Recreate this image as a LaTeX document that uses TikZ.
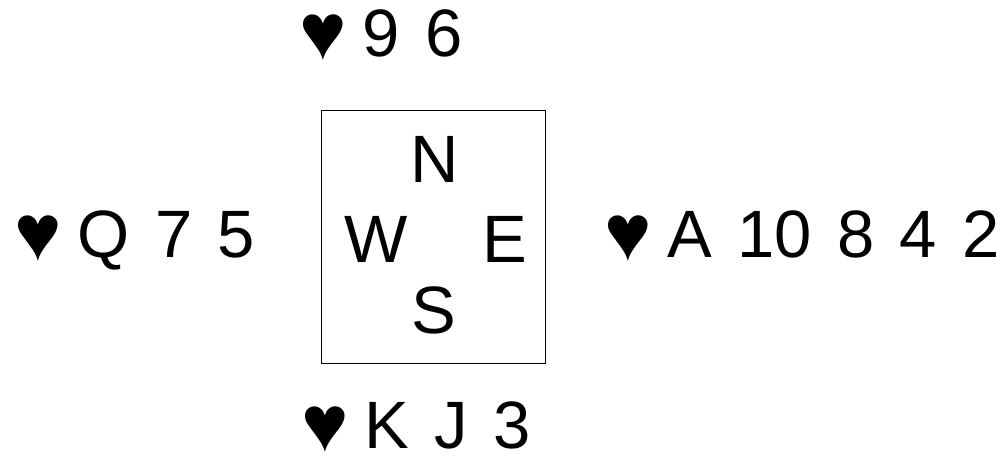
\documentclass[tikz,border=0pt]{standalone}
\usepackage{fontspec}
\setmainfont{Liberation Sans}[WordSpace=1.35]
\newcommand\hrt{\raisebox{-3pt}{\fontsize{80}{80}\selectfont ♥}\hspace{-9pt}}
\begin{document}
\begin{tikzpicture}[x=1pt,y=-1pt,
  hand/.style={anchor=base west,inner sep=0pt,font=\fontsize{67}{80}\selectfont},
  dir/.style={anchor=base,inner sep=0pt,font=\fontsize{67}{80}\selectfont}]
\useasboundingbox (0,0) rectangle (1006,457);
\node[draw,line width=1pt,minimum width=224pt,minimum height=252pt,inner sep=0pt] (box) at (433.5,237) {};
\node[hand] (north) at (299,57) {\hrt{} 9 6};
\node[hand] (west) at (14,257) {\hrt{} Q 7 5};
\node[hand] (east) at (604,257) {\hrt{} A 10 8 4 2};
\node[hand] (south) at (301,448) {\hrt{} K J 3};
\node[dir] (n) at (434.5,183) {N};
\node[dir] (w) at (376,262) {W};
\node[dir] (e) at (505,262) {E};
\node[dir] (s) at (433.5,333) {S};
\end{tikzpicture}
\end{document}
